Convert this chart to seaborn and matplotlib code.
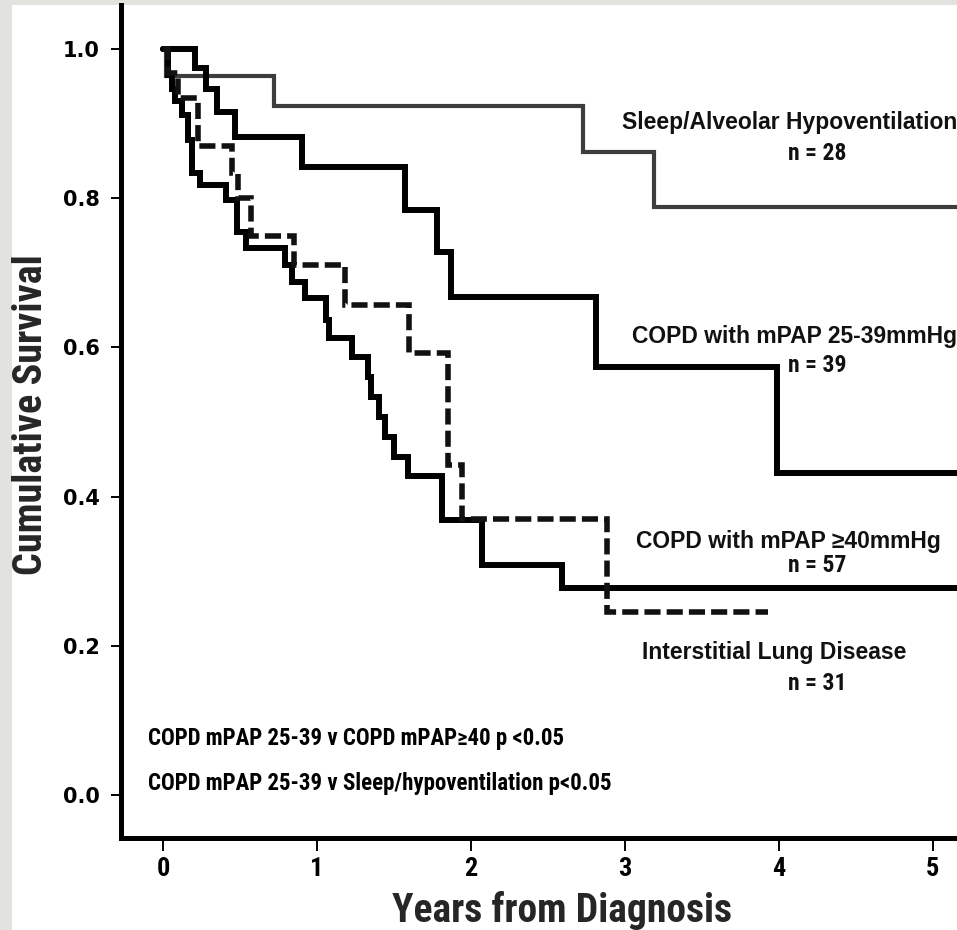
import glob
import os
import matplotlib
matplotlib.use("Agg")
import matplotlib.pyplot as plt
from matplotlib.patches import Rectangle
from matplotlib import font_manager as fm
import seaborn as sns
import pandas as pd

# ---------------- data ----------------
sleep_years = [0.0, 0.02, 0.72, 2.73, 3.19, 5.3]
sleep_surv = [1.0, 0.964, 0.924, 0.862, 0.788, 0.788]

copd_low_years = [0.0, 0.21, 0.28, 0.35, 0.47, 0.90, 1.57, 1.78, 1.87, 2.81, 3.99, 5.3]
copd_low_surv = [1.0, 0.974, 0.947, 0.916, 0.882, 0.842, 0.784, 0.728, 0.668, 0.574, 0.432, 0.432]

copd_high_years = [0.0, 0.03, 0.056, 0.08, 0.12, 0.165, 0.19, 0.24, 0.41, 0.48, 0.54,
                   0.79, 0.84, 0.92, 1.06, 1.08, 1.23, 1.33, 1.35, 1.40, 1.44, 1.50,
                   1.59, 1.81, 2.07, 2.59, 5.3]
copd_high_surv = [1.0, 0.965, 0.947, 0.93, 0.912, 0.878, 0.834, 0.818, 0.797, 0.755, 0.733,
                  0.71, 0.688, 0.666, 0.637, 0.612, 0.587, 0.56, 0.534, 0.507, 0.48, 0.453,
                  0.427, 0.369, 0.308, 0.278, 0.278]

ild_years = [0.0, 0.03, 0.10, 0.23, 0.45, 0.49, 0.57, 0.85, 1.18, 1.60, 1.85, 1.94, 2.88, 3.93]
ild_surv = [1.0, 0.968, 0.935, 0.87, 0.834, 0.80, 0.75, 0.71, 0.657, 0.592, 0.443, 0.37, 0.245, 0.245]

group_names = ["Sleep/Alveolar Hypoventilation", "COPD with mPAP 25-39mmHg",
               "COPD with mPAP \u226540mmHg", "Interstitial Lung Disease"]
group_n = ["n = 28", "n = 39", "n = 57", "n = 31"]

x_ticks = [0, 1, 2, 3, 4, 5]
y_ticks = [0.0, 0.2, 0.4, 0.6, 0.8, 1.0]
y_tick_labels = ["0.0", "0.2", "0.4", "0.6", "0.8", "1.0"]

x_title = "Years from Diagnosis"
y_title = "Cumulative Survival"
p_notes = ["COPD mPAP 25-39 v COPD mPAP\u226540 p <0.05",
           "COPD mPAP 25-39 v Sleep/hypoventilation p<0.05"]

# ---------------- build table ----------------
frames = []
for name, yrs, sv in zip(group_names,
                         [sleep_years, copd_low_years, copd_high_years, ild_years],
                         [sleep_surv, copd_low_surv, copd_high_surv, ild_surv]):
    frames.append(pd.DataFrame({"group": name, "years": yrs, "survival": sv}))
df = pd.concat(frames, ignore_index=True)

# ---------------- fonts ----------------
sns.set_style("ticks")
plt.rcParams["font.family"] = ["Liberation Sans", "DejaVu Sans"]


def find_condensed_bold():
    paths = set(f.fname for f in fm.fontManager.ttflist)
    for pat in ["/usr/share/fonts/**/*.ttf", "/usr/share/fonts/**/*.otf",
                "/usr/local/share/fonts/**/*.ttf", os.path.expanduser("~/.fonts/**/*.ttf")]:
        paths.update(glob.glob(pat, recursive=True))
    prefs = ["liberationsansnarrow-bold.", "arialnarrowbold", "robotocondensed-bold.",
             "roboto_condensed-bold.", "notosans-condensedbold.", "dejavusanscondensed-bold.",
             "opensans_condensed-bold.", "opensans-condensedbold.", "opensans-condbold.",
             "notosans-semicondensedbold."]
    low = {os.path.basename(p).lower(): p for p in paths}
    for pref in prefs:
        for base, p in low.items():
            if base.startswith(pref):
                return p
    for base, p in low.items():
        if ("narrow" in base or "condensed" in base) and "bold" in base and "italic" not in base \
                and "extrabold" not in base and "semibold" not in base:
            return p
    return None


cond_path = find_condensed_bold()
if cond_path:
    def NARROW(size):
        return fm.FontProperties(fname=cond_path, size=size)
else:
    def NARROW(size):
        return fm.FontProperties(family=["Liberation Sans", "DejaVu Sans"], weight="bold",
                                 size=size * 0.85)

WIDE = fm.FontProperties(family="DejaVu Sans", weight="bold", size=15)

# ---------------- figure ----------------
W, H = 957, 930
fig = plt.figure(figsize=(W / 100, H / 100), dpi=100, facecolor="#e2e2de")
fig.add_artist(Rectangle((12 / W, 0), 1, 1 - 5 / H, transform=fig.transFigure,
                         facecolor="white", edgecolor="none", zorder=-10))

ax = fig.add_axes([121 / W, 92 / H, 836 / W, 833 / H])
ax.set_facecolor("none")

line_styles = {
    group_names[0]: dict(color="#3d3d3d", linewidth=3.0, linestyle="-"),
    group_names[1]: dict(color="black", linewidth=4.3, linestyle="-"),
    group_names[2]: dict(color="black", linewidth=4.3, linestyle="-"),
    group_names[3]: dict(color="#111111", linewidth=4.0, linestyle=(0, (2.9, 1.1))),
}
for g in group_names:
    sub = df[df["group"] == g]
    sns.lineplot(data=sub, x="years", y="survival", ax=ax, drawstyle="steps-post",
                 estimator=None, sort=False, legend=False,
                 solid_joinstyle="miter", dash_joinstyle="miter",
                 **line_styles[g])

ax.set_xlim(-0.273, 5.156)
ax.set_ylim(-0.0576, 1.059)
ax.set_xticks(x_ticks)
ax.set_xticklabels([str(v) for v in x_ticks])
ax.set_yticks(y_ticks)
ax.set_yticklabels(y_tick_labels)

for side in ["top", "right"]:
    ax.spines[side].set_visible(False)
for side in ["left", "bottom"]:
    ax.spines[side].set_linewidth(3.6)
    ax.spines[side].set_color("black")

ax.tick_params(axis="y", direction="out", length=7.5, width=1.4, pad=8, colors="black")
ax.tick_params(axis="x", direction="out", length=9, width=1.4, pad=5, colors="black")
for lbl in ax.get_yticklabels():
    lbl.set_fontproperties(WIDE)
for lbl in ax.get_xticklabels():
    lbl.set_fontproperties(NARROW(19))

ax.set_xlabel(x_title, fontproperties=NARROW(28.5), ha="center", va="center")
ax.xaxis.set_label_coords(0.5275, -0.0876)
ax.set_ylabel(y_title, fontproperties=NARROW(29), ha="center", va="center")
ax.yaxis.set_label_coords(-0.108, 0.5078)

# curve labels (data coordinates)
label_pos = [(2.98, 0.893), (3.045, 0.606), (3.07, 0.331), (3.11, 0.182)]
n_pos = [(4.25, 0.851), (4.25, 0.567), (4.25, 0.299), (4.25, 0.141)]
for name, (x, y) in zip(group_names, label_pos):
    ax.text(x, y, name, ha="left", va="baseline", fontsize=16.5, fontweight="bold",
            fontfamily=["Liberation Sans", "DejaVu Sans"], color="#111111", clip_on=False)
for n, (x, y) in zip(group_n, n_pos):
    ax.text(x, y, n, ha="center", va="baseline", fontproperties=NARROW(17), color="#111111")

for note, y in zip(p_notes, [0.067, 0.0067]):
    ax.text(-0.097, y, note, ha="left", va="baseline", fontproperties=NARROW(16.5),
            color="black")

fig.savefig("out.png", dpi=100, facecolor=fig.get_facecolor())
